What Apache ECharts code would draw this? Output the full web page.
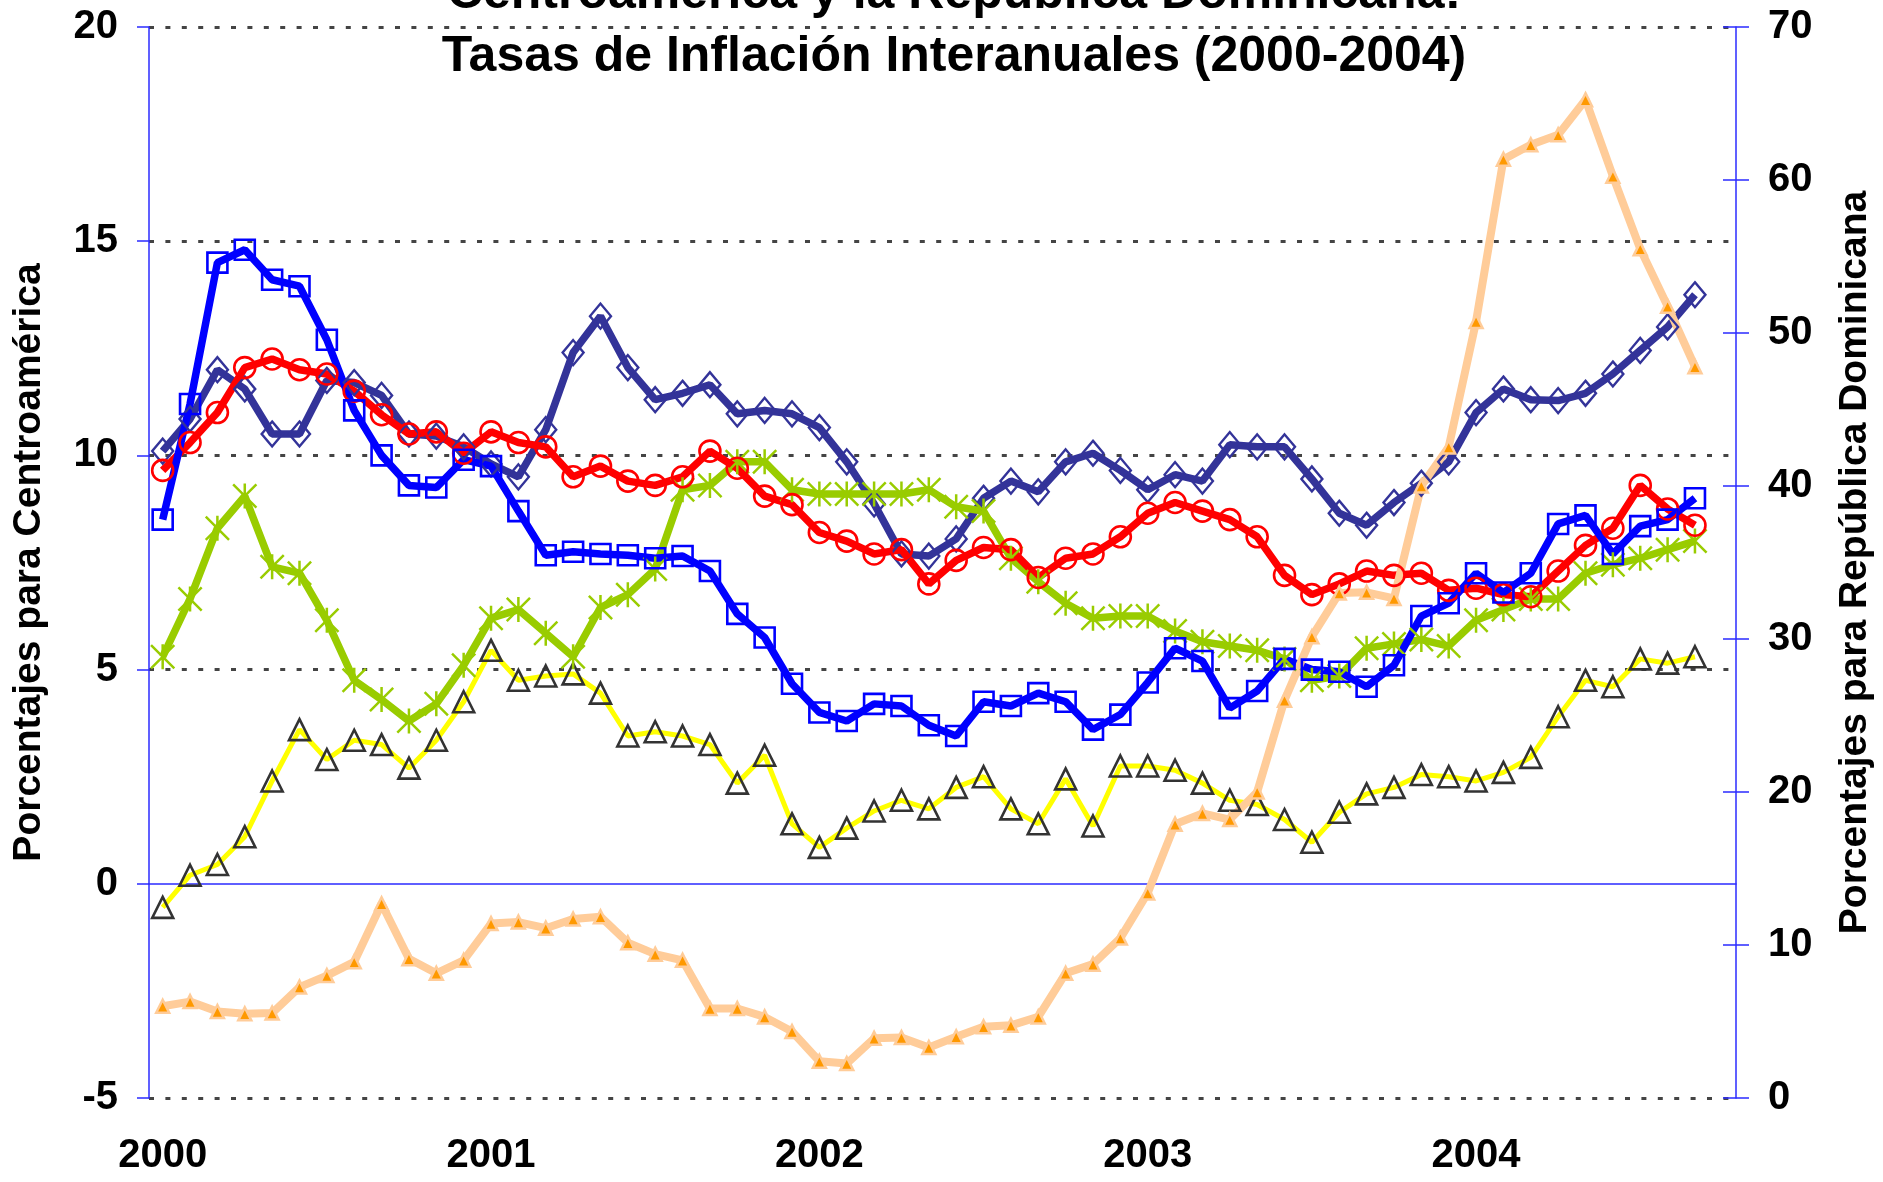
<!DOCTYPE html>
<html>
<head>
<meta charset="utf-8">
<title>Tasas de Inflación Interanuales (2000-2004)</title>
<script src="https://cdn.jsdelivr.net/npm/echarts@6.0.0/dist/echarts.min.js"></script>
<style>
html, body { margin: 0; padding: 0; background: #fff; }
#chart { width: 1883px; height: 1182px; }
</style>
</head>
<body>
<div id="chart"></div>
<script>
// meses de enero 2000 a octubre 2004 (la última categoría queda vacía)
const years = ['2000', '2001', '2002', '2003', '2004'];
const months = ['01', '02', '03', '04', '05', '06', '07', '08', '09', '10', '11', '12'];
const lastMonthCount = 10;

// eje izquierdo
const leftTicks = { min: -5, max: 20, interval: 5 };
// eje derecho
const rightTicks = { min: 0, max: 70, interval: 10 };

// series de Centroamérica (eje izquierdo)
const costaRica = [10.1, 10.85, 12.0, 11.55, 10.5, 10.5, 11.75, 11.7, 11.4, 10.5, 10.45, 10.2,
    9.8, 9.5, 10.6, 12.4, 13.25, 12.05, 11.3, 11.45, 11.65, 10.97, 11.05, 10.97,
    10.65, 9.85, 8.87, 7.7, 7.65, 8.05, 9.0, 9.4, 9.15, 9.85, 10.05, 9.65,
    9.2, 9.55, 9.4, 10.25, 10.2, 10.2, 9.45, 8.65, 8.37, 8.9, 9.35, 9.85,
    11.0, 11.55, 11.3, 11.28, 11.45, 11.9, 12.45, 13.0, 13.75];
const elSalvador = [-0.55, 0.2, 0.45, 1.1, 2.4, 3.6, 2.9, 3.35, 3.25, 2.7, 3.35, 4.25,
    5.45, 4.75, 4.85, 4.9, 4.45, 3.45, 3.55, 3.45, 3.25, 2.35, 3.0, 1.4,
    0.85, 1.3, 1.7, 1.95, 1.75, 2.25, 2.5, 1.75, 1.4, 2.45, 1.35, 2.75,
    2.75, 2.65, 2.35, 1.95, 1.85, 1.5, 0.97, 1.67, 2.1, 2.25, 2.55, 2.5,
    2.4, 2.6, 2.95, 3.9, 4.75, 4.6, 5.25, 5.15, 5.3];
const guatemala = [5.3, 6.65, 8.3, 9.05, 7.4, 7.25, 6.15, 4.75, 4.3, 3.8, 4.2, 5.1,
    6.2, 6.4, 5.85, 5.3, 6.45, 6.75, 7.35, 9.2, 9.3, 9.85, 9.85, 9.2,
    9.1, 9.1, 9.1, 9.1, 9.2, 8.8, 8.7, 7.6, 7.05, 6.55, 6.2, 6.25,
    6.25, 5.9, 5.65, 5.55, 5.45, 5.25, 4.75, 4.85, 5.5, 5.6, 5.7, 5.55,
    6.15, 6.4, 6.65, 6.65, 7.25, 7.45, 7.6, 7.8, 8.0];
const honduras = [9.65, 10.3, 11.0, 12.05, 12.25, 12.0, 11.9, 11.5, 10.95, 10.5, 10.55, 10.05,
    10.55, 10.3, 10.2, 9.5, 9.75, 9.4, 9.3, 9.5, 10.1, 9.7, 9.05, 8.85,
    8.2, 8.0, 7.7, 7.8, 7.0, 7.55, 7.85, 7.8, 7.15, 7.6, 7.7, 8.1,
    8.65, 8.9, 8.7, 8.5, 8.1, 7.2, 6.75, 7.0, 7.3, 7.2, 7.25, 6.85,
    6.9, 6.75, 6.7, 7.3, 7.9, 8.3, 9.3, 8.75, 8.37];
const nicaragua = [8.5, 11.2, 14.5, 14.8, 14.1, 13.95, 12.7, 11.05, 10.0, 9.3, 9.25, 9.9,
    9.75, 8.7, 7.67, 7.75, 7.7, 7.67, 7.6, 7.65, 7.3, 6.3, 5.75, 4.67,
    4.0, 3.8, 4.2, 4.15, 3.7, 3.45, 4.25, 4.15, 4.45, 4.25, 3.6, 3.95,
    4.7, 5.5, 5.2, 4.1, 4.5, 5.25, 5.0, 4.95, 4.6, 5.1, 6.25, 6.55,
    7.25, 6.8, 7.25, 8.4, 8.6, 7.7, 8.35, 8.5, 9.0];
// República Dominicana (eje derecho)
const repDominicana = [6.0, 6.3, 5.65, 5.5, 5.55, 7.25, 8.0, 8.9, 12.7, 9.1, 8.15, 9.0,
    11.4, 11.5, 11.1, 11.7, 11.85, 10.15, 9.4, 9.0, 5.85, 5.85, 5.3, 4.35,
    2.4, 2.25, 3.9, 3.95, 3.3, 4.0, 4.65, 4.75, 5.3, 8.15, 8.75, 10.45,
    13.4, 17.9, 18.6, 18.2, 20.0, 26.0, 30.15, 33.0, 33.05, 32.65, 40.0, 42.55,
    50.75, 61.35, 62.3, 62.95, 65.25, 60.25, 55.5, 51.75, 47.8];

// categorías mensuales
const categories = [];
years.forEach(function (y, k) {
    const n = k === years.length - 1 ? lastMonthCount : 12;
    for (let m = 0; m < n; m++) {
        categories.push(y + '-' + months[m]);
    }
});

const FONT = '"Liberation Sans", Arial, sans-serif';
const AXIS_BLUE = '#2b2bff';

// asterisco de Excel: barra vertical y una X
const asterisk = 'path://M45,0 L55,0 L55,100 L45,100 Z M0,7 L7,0 L100,93 L93,100 Z M93,0 L100,7 L7,100 L0,93 Z';

function lineSeries(name, data, color, width, symbol, size, item, yIndex) {
    return {
        name: name,
        type: 'line',
        data: data,
        yAxisIndex: yIndex || 0,
        symbol: symbol,
        symbolSize: size,
        showAllSymbol: true,
        lineStyle: { color: color, width: width },
        itemStyle: item,
        emphasis: { disabled: true },
        z: 2
    };
}

const chart = echarts.init(document.getElementById('chart'));

const option = {
    animation: false,
    backgroundColor: '#ffffff',
    title: {
        text: 'Centroamérica y la República Dominicana:\nTasas de Inflación Interanuales (2000-2004)',
        left: 949,
        top: -42,
        textAlign: 'center',
        textStyle: {
            fontFamily: FONT,
            fontSize: 50,
            fontWeight: 'bold',
            color: '#000',
            lineHeight: 63
        }
    },
    grid: { left: 149, right: 145, top: 27, bottom: 84, containLabel: false },
    xAxis: [{
        type: 'category',
        data: categories,
        boundaryGap: true,
        axisLine: { onZero: true, onZeroAxisIndex: 0, lineStyle: { color: AXIS_BLUE, width: 1.5 } },
        axisTick: { interval: 11, length: 12, lineStyle: { color: AXIS_BLUE, width: 1.5 } },
        axisLabel: { show: false },
        splitLine: { show: false }
    }, {
        type: 'category',
        data: categories,
        position: 'bottom',
        boundaryGap: true,
        axisLine: { show: false },
        axisTick: { show: false },
        axisLabel: {
            interval: 11,
            margin: 38,
            fontFamily: FONT,
            fontSize: 40,
            fontWeight: 'bold',
            color: '#000',
            formatter: function (v) { return v.slice(0, 4); }
        },
        splitLine: { show: false }
    }],
    yAxis: [{
        type: 'value',
        min: leftTicks.min,
        max: leftTicks.max,
        interval: leftTicks.interval,
        position: 'left',
        name: 'Porcentajes para Centroamérica',
        nameLocation: 'middle',
        nameRotate: 90,
        nameGap: 100,
        nameTextStyle: { fontFamily: FONT, fontSize: 39, fontWeight: 'bold', color: '#000' },
        axisLine: { show: true, lineStyle: { color: AXIS_BLUE, width: 1.5 } },
        axisTick: { show: true, length: 12, lineStyle: { color: AXIS_BLUE, width: 1.5 } },
        axisLabel: { margin: 31, fontFamily: FONT, fontSize: 40, fontWeight: 'bold', color: '#000' },
        splitLine: {
            show: true,
            lineStyle: {
                // la línea de 0 es el eje de categorías
                color: ['#444', 'rgba(0,0,0,0)', '#444', '#444', '#444', '#444'],
                width: 3,
                type: [5, 11.4]
            }
        }
    }, {
        type: 'value',
        min: rightTicks.min,
        max: rightTicks.max,
        interval: rightTicks.interval,
        position: 'right',
        name: 'Porcentajes para República Dominicana',
        nameLocation: 'middle',
        nameRotate: 90,
        nameGap: 100,
        nameTextStyle: { fontFamily: FONT, fontSize: 39, fontWeight: 'bold', color: '#000' },
        axisLine: { show: true, lineStyle: { color: AXIS_BLUE, width: 1.5 } },
        axisTick: { show: true, length: 13, lineStyle: { color: AXIS_BLUE, width: 1.5 } },
        axisLabel: { margin: 32, fontFamily: FONT, fontSize: 40, fontWeight: 'bold', color: '#000' },
        splitLine: { show: false }
    }, {
        // marcas hacia adentro del eje derecho (marca cruzada)
        type: 'value',
        min: rightTicks.min,
        max: rightTicks.max,
        interval: rightTicks.interval,
        position: 'right',
        axisLine: { show: false },
        axisTick: { show: true, inside: true, length: 13, lineStyle: { color: AXIS_BLUE, width: 1.5 } },
        axisLabel: { show: false },
        splitLine: { show: false }
    }],
    series: [
        lineSeries('Costa Rica', costaRica, '#333399', 7.5, 'diamond', [21, 25],
            { color: 'rgba(0,0,0,0)', borderColor: '#333399', borderWidth: 2.4 }),
        lineSeries('El Salvador', elSalvador, '#ffff00', 5, 'triangle', 21,
            { color: 'rgba(0,0,0,0)', borderColor: '#333333', borderWidth: 2.6 }),
        lineSeries('Guatemala', guatemala, '#99cc00', 7.5, asterisk, 25,
            { color: '#99cc00', borderWidth: 0 }),
        lineSeries('Honduras', honduras, '#ff0000', 7.5, 'circle', 21,
            { color: 'rgba(0,0,0,0)', borderColor: '#ff0000', borderWidth: 2.6 }),
        lineSeries('Nicaragua', nicaragua, '#0000ff', 7.5, 'rect', 20,
            { color: 'rgba(0,0,0,0)', borderColor: '#0000ff', borderWidth: 2.6 }),
        lineSeries('República Dominicana', repDominicana, '#ffcc99', 8, 'triangle', 13,
            { color: '#ff9900', borderColor: '#ffcc99', borderWidth: 2.5 }, 1)
    ]
};

chart.setOption(option);

window.addEventListener('resize', function () {
    chart.resize();
});
</script>
</body>
</html>
